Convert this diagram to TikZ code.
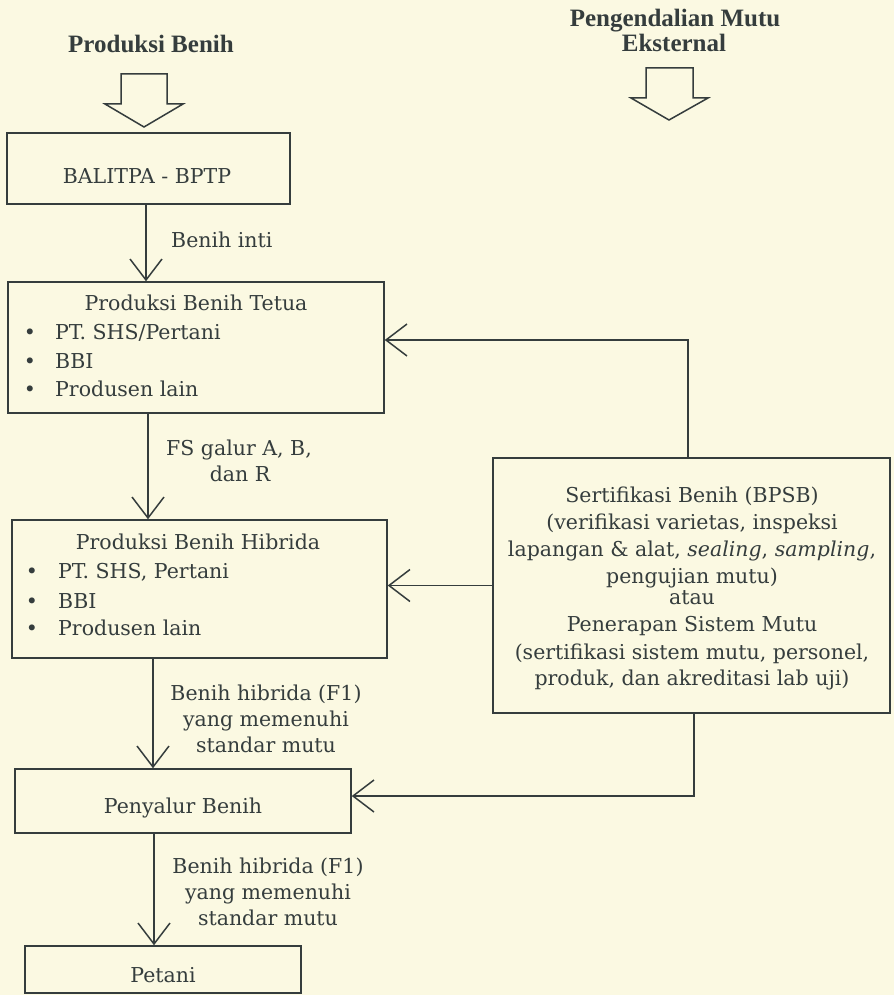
\documentclass[tikz,border=0pt]{standalone}
\usepackage{fontspec}
\setmainfont{DejaVu Serif}
\newfontfamily\titlefont{Liberation Serif}
\usetikzlibrary{arrows.meta}
\definecolor{paper}{HTML}{FBF9E2}
\definecolor{ink}{HTML}{353D3D}
\begin{document}
\begin{tikzpicture}[x=1pt,y=-1pt,
  box/.style={draw=ink, line width=1.5pt, rectangle, inner sep=0pt},
  txt/.style={text=ink, font=\fontsize{20.5}{24}\selectfont, inner sep=0pt, anchor=base},
  txtl/.style={txt, anchor=base west},
  ttl/.style={text=ink, font=\titlefont\bfseries\fontsize{25}{29}\selectfont, inner sep=0pt, anchor=base},
  arr/.style={draw=ink, line width=1.5pt, -{Straight Barb[length=21pt,width=32pt,line width=1.5pt]}},
  hollow/.style={draw=ink, line width=1.5pt, line join=miter}]
\useasboundingbox (0,0) rectangle (894,995);
\fill[paper] (0,0) rectangle (894,995);

% titles
\node[ttl] (title1) at (151,53) {Produksi Benih};
\node[ttl] (title2) at (675,27) {Pengendalian Mutu};
\node[ttl] (title3) at (674,52) {Eksternal};

% hollow arrows
\draw[hollow] (121,74) -- (167,74) -- (167,104) -- (183,104) -- (144,127) -- (105,104) -- (121,104) -- cycle;
\draw[hollow] (646,68) -- (693,68) -- (693,98) -- (708,98) -- (669,120) -- (631,98) -- (646,98) -- cycle;

% boxes
\node[box, minimum width=283, minimum height=71] (balit) at (148.5,168.5) {};
\node[box, minimum width=376, minimum height=131] (tetua) at (196,347.5) {};
\node[box, minimum width=375, minimum height=138] (hibrida) at (199.5,589) {};
\node[box, minimum width=336, minimum height=64] (penyalur) at (183,801) {};
\node[box, minimum width=276, minimum height=47] (petani) at (163,969.5) {};
\node[box, minimum width=397, minimum height=255] (sert) at (691.5,585.5) {};

% box texts
\node[txt] (balitT) at (147,183) {BALITPA - BPTP};

\node[txt] (tetuaT) at (196,310) {Produksi Benih Tetua};
\node[txt] (tb1) at (30,339) {•};
\node[txt] (tb2) at (30,368) {•};
\node[txt] (tb3) at (30,396) {•};
\node[txtl] (tl1) at (55,339) {PT. SHS/Pertani};
\node[txtl] (tl2) at (55,368) {BBI};
\node[txtl] (tl3) at (55,396) {Produsen lain};

\node[txt] (hibT) at (198,549) {Produksi Benih Hibrida};
\node[txt] (hb1) at (32,578) {•};
\node[txt] (hb2) at (32,608) {•};
\node[txt] (hb3) at (32,635) {•};
\node[txtl] (hl1) at (58,578) {PT. SHS, Pertani};
\node[txtl] (hl2) at (58,608) {BBI};
\node[txtl] (hl3) at (58,635) {Produsen lain};

\node[txt] (penT) at (183,813) {Penyalur Benih};
\node[txt] (petT) at (163,982) {Petani};

\node[txt] (s1) at (692,502) {Sertifikasi Benih (BPSB)};
\node[txt] (s2) at (692,529) {(verifikasi varietas, inspeksi};
\node[txt] (s3) at (692,556) {lapangan \& alat, \textit{sealing}, \textit{sampling},};
\node[txt] (s4) at (692,583) {pengujian mutu)};
\node[txt] (s5) at (692,604) {atau};
\node[txt] (s6) at (692,631) {Penerapan Sistem Mutu};
\node[txt] (s7) at (692,659) {(sertifikasi sistem mutu, personel,};
\node[txt] (s8) at (692,685) {produk, dan akreditasi lab uji)};

% edge labels
\node[txtl] (l1) at (171,247) {Benih inti};
\node[txt] (l2a) at (239,455) {FS galur A, B,};
\node[txt] (l2b) at (240,481) {dan R};
\node[txt] (l3a) at (266,700) {Benih hibrida (F1)};
\node[txt] (l3b) at (266,726) {yang memenuhi};
\node[txt] (l3c) at (266,752) {standar mutu};
\node[txt] (l4a) at (268,873) {Benih hibrida (F1)};
\node[txt] (l4b) at (268,899) {yang memenuhi};
\node[txt] (l4c) at (268,925) {standar mutu};

% connectors
\coordinate (xa) at (146,0);
\coordinate (xb) at (148,0);
\coordinate (xc) at (153,0);
\coordinate (xd) at (154,0);
\draw[arr] (xa |- balit.south) -- (xa |- tetua.north);
\draw[arr] (xb |- tetua.south) -- (xb |- hibrida.north);
\draw[arr] (xc |- hibrida.south) -- (xc |- penyalur.north);
\draw[arr] (xd |- penyalur.south) -- (xd |- petani.north);

\coordinate (k1) at (688,340);
\coordinate (k2) at (694,796);
\draw[arr] (k1 |- sert.north) -- (k1) -- (k1 -| tetua.east);
\draw[arr] (sert.west) -- (sert.west -| hibrida.east);
\draw[arr] (k2 |- sert.south) -- (k2) -- (k2 -| penyalur.east);
\end{tikzpicture}
\end{document}
